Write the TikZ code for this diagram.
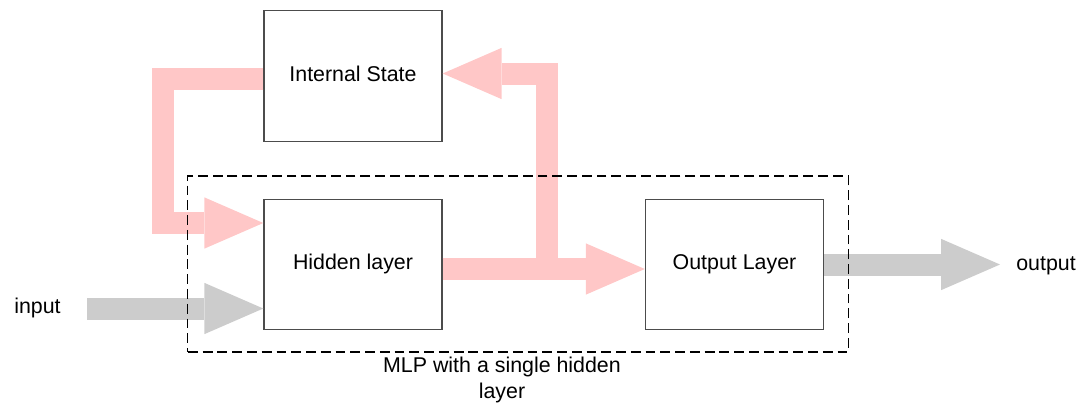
\documentclass[tikz,border=0pt]{standalone}
\usepackage{fontspec}
\setmainfont{Liberation Sans}
\usetikzlibrary{arrows.meta,calc}

\definecolor{pinkarr}{RGB}{255,199,199}
\definecolor{grayarr}{RGB}{204,204,204}

\begin{document}
\begin{tikzpicture}[x=0.025cm,y=-0.025cm,
	font=\fontsize{15.2pt}{17.8pt}\selectfont,
	box/.style={draw=black!70,line width=1pt,minimum width=4.45cm,minimum height=3.26cm,text height=0.72em,text depth=0pt,inner sep=0pt},
	fatarrow/.style={line width=0.55cm,line join=miter,-{Triangle[length=1.47cm,width=1.28cm,line width=0pt]}},
	pinkarrow/.style={fatarrow,draw=pinkarr},
	grayarrow/.style={fatarrow,draw=grayarr}]
	\useasboundingbox (0,0) rectangle (1076,403);
	
	% the three blocks
	\node[box] (state) at (353,76) {Internal State};
	\node[box] (hidden) at (353,264.5) {Hidden layer};
	\node[box] (output) at (734.5,264.5) {Output Layer};
	
	% labels
	\node[anchor=base west,inner sep=0pt] (inlbl) at (14,313) {input};
	\node[anchor=base west,inner sep=0pt] (outlbl) at (1016,270) {output};
	
	% fat arrows
	\coordinate (loop) at (163,223);
	\coordinate (split) at (546.5,269);
	\coordinate (instart) at (87,308.5);
	\coordinate (outtip) at (1000,264.5);
	\draw[pinkarrow] ($(state.west)+(0,2.5)$) -| (loop) -- (loop -| hidden.west);
	\draw[pinkarrow] ($(hidden.east)+(0,4.5)$) -- ($(output.west)+(0,4.5)$);
	\draw[pinkarrow] (split) |- ($(state.east)+(0,-2.5)$);
	\draw[grayarrow] (instart) -- (instart -| hidden.west);
	\draw[grayarrow] (output.east) -- (outtip);
	
	% the MLP frame
	\node[draw,line width=0.8pt,dash pattern=on 7pt off 3.5pt,minimum width=16.5cm,minimum height=4.4cm] (mlp) at (518,264) {};
	\node[anchor=base,align=center,inner sep=0pt] (mlplbl) at (502,398) {MLP with a single hidden\\layer};
\end{tikzpicture}
\end{document}
